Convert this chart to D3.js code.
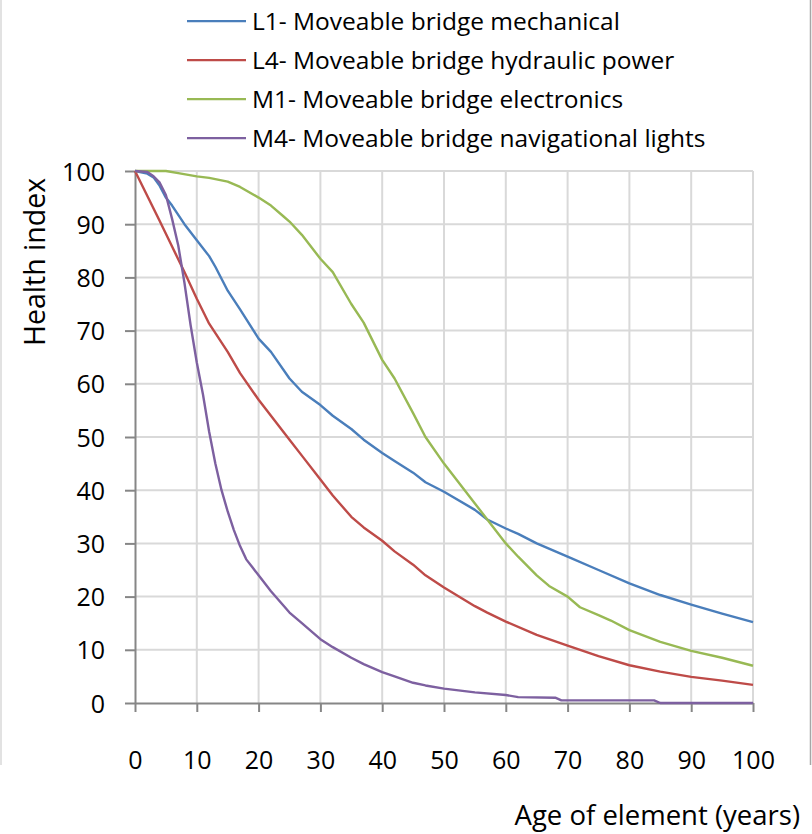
<!DOCTYPE html>
<html><head><meta charset="utf-8">
<script src="https://cdn.jsdelivr.net/npm/d3@7"></script>
<style>body{margin:0;background:#fff}svg{display:block}text{font-family:"Open Sans",sans-serif;fill:#000}</style>
</head><body><svg id="c" width="812" height="834"></svg>
<script>
const xTicks=[0,10,20,30,40,50,60,70,80,90,100];
const yTicks=[0,10,20,30,40,50,60,70,80,90,100];
const seriesNames=["L1- Moveable bridge mechanical","L4- Moveable bridge hydraulic power","M1- Moveable bridge electronics","M4- Moveable bridge navigational lights"];
const seriesColors=["#4a7ebb","#be4b48","#98b954","#7d60a0"];
const l1Age=[0,2,3,4,5,6,8,10,12,13,15,17,20,22,25,27,30,32,35,37,40,42,45,47,50,55,57,60,62,65,70,75,80,85,90,95,100];
const l1Val=[100,99.5,98.8,97.2,95,93.5,90,87,84,82,77.5,74,68.5,66,61,58.5,56,54,51.5,49.5,47,45.5,43.3,41.5,39.7,36.3,34.5,32.8,31.8,30,27.5,25,22.5,20.3,18.5,16.8,15.2];
const l4Age=[0,2,4,6,8,10,12,15,17,20,22,25,27,30,32,35,37,40,42,45,47,50,52,55,57,60,65,70,75,80,85,90,95,100];
const l4Val=[100,95.3,90.6,85.8,81,76,71.3,66,62,57,54,49.5,46.5,42,39,35,33,30.5,28.5,26,24,21.7,20.3,18.2,17,15.3,12.8,10.8,8.8,7.1,5.9,4.9,4.2,3.4];
const m1Age=[0,5,7,10,12,15,17,20,22,24,25,27,30,32,35,37,40,42,45,47,50,52,55,57,60,62,65,67,70,72,75,77,80,85,90,95,100];
const m1Val=[100,100,99.6,99,98.7,98,97,95,93.5,91.5,90.5,88,83.5,81,75,71.5,64.5,61,54.5,50,45,42,37.5,34.5,30,27.5,24,22,20,18,16.5,15.5,13.7,11.5,9.8,8.5,7];
const m4Age=[0,2,3,4,5,6,7,8,9,10,11,12,13,14,15,16,17,18,19,20,22,25,27,30,32,35,37,40,42,45,47,50,55,60,62,68,69,84,85,100];
const m4Val=[100,99.8,99,97.8,95.5,91,86,79,71,64,58,51,45,40,36,32.5,29.5,27,25.5,24,21,17,15,12,10.5,8.5,7.3,5.8,5,3.8,3.3,2.7,2,1.5,1.1,1,0.5,0.5,0,0];
const seriesAges=[l1Age,l4Age,m1Age,m4Age];
const seriesVals=[l1Val,l4Val,m1Val,m4Val];

const svg=d3.select("#c");
const x=d3.scaleLinear().domain([0,100]).range([135,753]);
const y=d3.scaleLinear().domain([0,100]).range([703,171]);

// outer border fragments
svg.append("line").attr("x1",1).attr("x2",1).attr("y1",0).attr("y2",765).attr("stroke","#d9d9d9").attr("stroke-width",1.5);
svg.append("line").attr("x1",810.5).attr("x2",810.5).attr("y1",0).attr("y2",765).attr("stroke","#a6a6a6").attr("stroke-width",1.5);

// gridlines
const grid=svg.append("g");
grid.selectAll(".gy").data(yTicks.filter(d=>d>0)).join("line")
 .attr("x1",x(0)).attr("x2",x(100)).attr("y1",d=>y(d)).attr("y2",d=>y(d))
 .attr("stroke","#d9d9d9").attr("stroke-width",2);
grid.selectAll(".gx").data(xTicks.filter(d=>d>0)).join("line")
 .attr("x1",d=>x(d)).attr("x2",d=>x(d)).attr("y1",y(0)).attr("y2",y(100))
 .attr("stroke","#d9d9d9").attr("stroke-width",2);

// axes
const xAxis=svg.append("g").attr("transform",`translate(0,${y(0)})`)
 .call(d3.axisBottom(x).tickValues(xTicks).tickSize(9).tickPadding(57).tickSizeOuter(0));
const yAxis=svg.append("g").attr("transform",`translate(${x(0)},0)`)
 .call(d3.axisLeft(y).tickValues(yTicks).tickSize(10).tickPadding(20).tickSizeOuter(0));
[xAxis,yAxis].forEach(a=>{
 a.select(".domain").attr("stroke","#868686").attr("stroke-width",2);
 a.selectAll(".tick line").attr("stroke","#868686").attr("stroke-width",2);
 a.selectAll(".tick text").attr("font-family","'Open Sans',sans-serif").attr("font-size",25).attr("fill","#000");
});
xAxis.selectAll(".tick text").attr("dy","0");
yAxis.selectAll(".tick text").attr("dy","0.36em");

// lines
const line=d3.line().x(d=>x(d[0])).y(d=>y(d[1]));
seriesAges.forEach((ages,i)=>{
 svg.append("path").datum(ages.map((a,j)=>[a,seriesVals[i][j]]))
  .attr("d",line).attr("fill","none").attr("stroke",seriesColors[i]).attr("stroke-width",2.4)
  .attr("stroke-linejoin","round");
});

// legend
const leg=svg.append("g");
seriesNames.forEach((n,i)=>{
 const ly=21+i*39;
 leg.append("line").attr("x1",187).attr("x2",246).attr("y1",ly).attr("y2",ly).attr("stroke",seriesColors[i]).attr("stroke-width",2.25);
 leg.append("text").attr("x",252).attr("y",ly).attr("dy","0.36em").attr("font-size",24.5).text(n);
});

// axis titles
svg.append("text").attr("transform","translate(35,262) rotate(-90)").attr("text-anchor","middle").attr("dy","0.36em").attr("font-size",28.5).text("Health index");
svg.append("text").attr("x",800).attr("y",825).attr("text-anchor","end").attr("font-size",27.5).text("Age of element (years)");
</script></body></html>
